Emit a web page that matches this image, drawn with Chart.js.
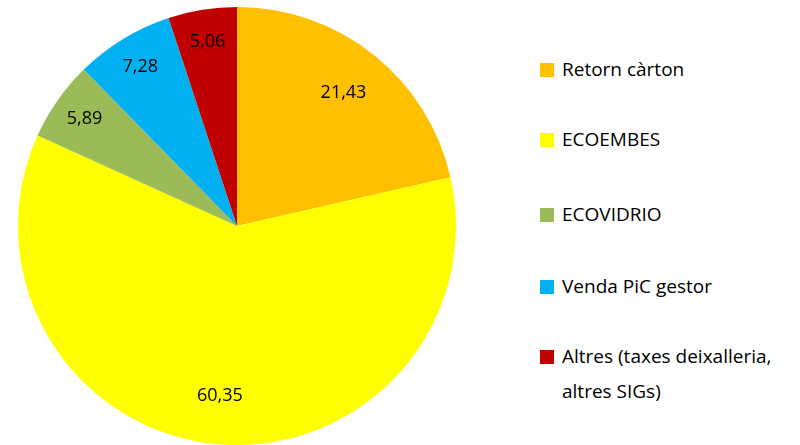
<!DOCTYPE html>
<html>
<head>
<meta charset="utf-8">
<script src="https://cdn.jsdelivr.net/npm/chart.js@4"></script>
<style>
  body { margin: 0; background: #fff; width: 800px; height: 445px; position: relative; overflow: hidden; font-family: "Open Sans", sans-serif; }
  #wrap { position: absolute; left: 0; top: 0; width: 474px; height: 445px; }
  .leg { position: absolute; left: 540px; font-size: 19px; color: #000; line-height: 35px; white-space: nowrap; }
  .leg span.box { position: absolute; left: 0; top: 11px; width: 14px; height: 14px; }
  .leg span.txt { display: block; margin-left: 22px; }
</style>
</head>
<body>
<div id="wrap"><canvas id="pieChart"></canvas></div>
<div id="legend"></div>
<script>
// data
const labels = ['Retorn càrton', 'ECOEMBES', 'ECOVIDRIO', 'Venda PiC gestor', ['Altres (taxes deixalleria,', 'altres SIGs)']];
const values = [21.43, 60.35, 5.89, 7.28, 5.06];
const colors = ['#FFC000', '#FFFF00', '#9BBB59', '#00B0F0', '#C00000'];
const legendTops = [52, 122, 197, 269, 339];

// legend in html
const legend = document.getElementById('legend');
labels.forEach((l, i) => {
    const d = document.createElement('div');
    d.className = 'leg';
    d.style.top = legendTops[i] + 'px';
    const txt = Array.isArray(l) ? l.join('<br>') : l;
    d.innerHTML = '<span class="box" style="background:' + colors[i] + '"></span><span class="txt">' + txt + '</span>';
    legend.appendChild(d);
});

// value labels on slices
const valueLabels = {
    id: 'valueLabels',
    afterDatasetsDraw(chart) {
        const ctx = chart.ctx;
        const meta = chart.getDatasetMeta(0);
        ctx.save();
        ctx.font = '18px "Open Sans", sans-serif';
        ctx.fillStyle = '#000';
        ctx.textAlign = 'center';
        ctx.textBaseline = 'middle';
        meta.data.forEach((arc, i) => {
            const p = arc.getProps(['x', 'y', 'startAngle', 'endAngle', 'outerRadius'], true);
            const a = (p.startAngle + p.endAngle) / 2;
            const r = p.outerRadius * (values[i] < 10 ? 0.85 : 0.78);
            ctx.fillText(values[i].toFixed(2).replace('.', ','), p.x + Math.cos(a) * r, p.y + Math.sin(a) * r);
        });
        ctx.restore();
    }
};

const pieChart = new Chart(document.getElementById('pieChart'), {
    type: 'pie',
    data: {
        labels: labels,
        datasets: [{
            data: values,
            backgroundColor: colors,
            borderWidth: 0
        }]
    },
    options: {
        responsive: true,
        maintainAspectRatio: false,
        animation: false,
        layout: { padding: { top: 7, bottom: 0, left: 0, right: 0 } },
        plugins: {
            legend: { display: false },
            tooltip: { enabled: false }
        }
    },
    plugins: [valueLabels]
});
</script>
</body>
</html>
